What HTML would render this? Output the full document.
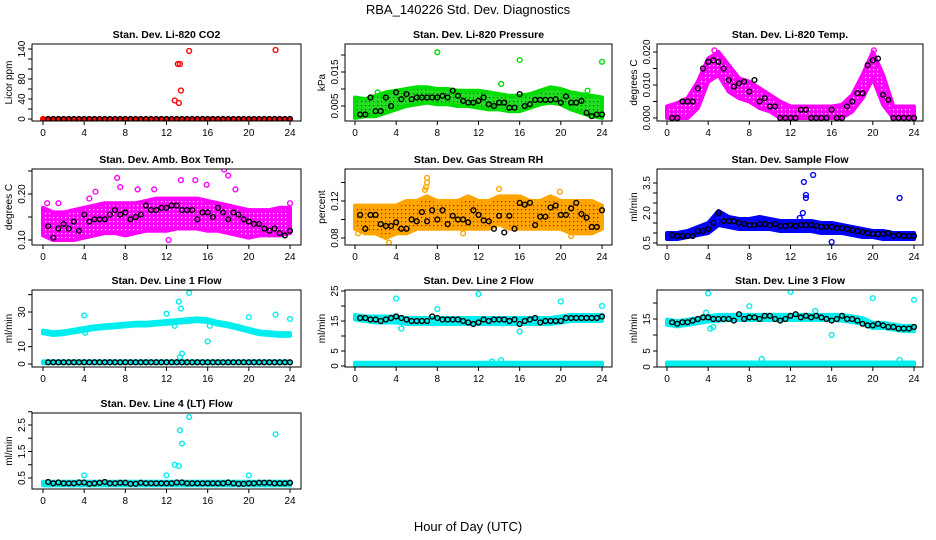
<!DOCTYPE html>
<html><head><meta charset="utf-8"><style>
body{margin:0;background:#fff}
svg{display:block;font-family:"Liberation Sans",sans-serif}
</style></head><body>
<svg id="chart" width="936" height="540" viewBox="0 0 936 540">
<rect width="936" height="540" fill="#fff"/>
<text x="468" y="14" text-anchor="middle" font-size="13">RBA_140226  Std. Dev. Diagnostics</text>
<text x="468" y="531" text-anchor="middle" font-size="13">Hour of Day (UTC)</text>
</svg>
<script>
const hours=[0,1,2,3,4,5,6,7,8,9,10,11,12,13,14,15,16,17,18,19,20,21,22,23,24];
const xTicks=[0,4,8,12,16,20,24];
const blackX=[0.5,1,1.5,2,2.5,3,3.5,4,4.5,5,5.5,6,6.5,7,7.5,8,8.5,9,9.5,10,10.5,11,11.5,12,12.5,13,13.5,14,14.5,15,15.5,16,16.5,17,17.5,18,18.5,19,19.5,20,20.5,21,21.5,22,22.5,23,23.5,24];

// P1 CO2
const co2Lo=[0,0,0,0,0,0,0,0,0,0,0,0,0,0,0,0,0,0,0,0,0,0,0,0,0];
const co2Hi=[0,0,0,0,0,0,0,0,0,0,0,0,0,0,0,0,0,0,0,0,0,0,0,0,0];
const co2Out=[[0,0],[12.8,37],[13.1,110],[13.3,110],[13.4,57],[13.2,32],[14.2,136],[22.6,138]];
const co2Black=[0,0,0,0,0,0,0,0,0,0,0,0,0,0,0,0,0,0,0,0,0,0,0,0,0,0,0,0,0,0,0,0,0,0,0,0,0,0,0,0,0,0,0,0,0,0,0,0];
// P2 Pressure
const presLo=[.0015,.002,.002,.003,.004,.005,.0055,.006,.0055,.0055,.005,.005,.0045,.004,.004,.0035,.0035,.0045,.0055,.006,.0055,.004,.003,.002,.0015];
const presHi=[.0075,.007,.008,.009,.0095,.010,.0105,.0105,.010,.010,.0095,.0095,.0095,.009,.0085,.008,.008,.0085,.0095,.0105,.010,.009,.0085,.008,.0075];
const presOut=[[8,0.0208],[16,0.0185],[24,0.018],[14.2,0.0115],[22.6,0.0095],[2.2,0.009]];
const presBlack=[.0025,.0025,.0075,.0035,.0035,.0075,.005,.009,.007,.0085,.007,.0075,.0075,.0075,.0075,.0075,.008,.0075,.0095,.008,.0065,.006,.006,.0065,.0075,.0055,.005,.006,.006,.0045,.0045,.0085,.005,.0055,.0068,.0068,.0068,.0068,.007,.006,.0078,.006,.006,.0065,.003,.002,.0025,.0025];
// P3 Li-820 Temp
const tempLo=[0,0,0,.003,.011,.013,.008,.006,.005,.003,.002,0,0,0,0,0,0,0,.002,.006,.012,.004,0,0,0];
const tempHi=[.0035,.0045,.006,.011,.018,.020,.016,.012,.011,.009,.007,.005,.0035,.0035,.0035,.0035,.0035,.004,.007,.013,.020,.013,.0035,.0035,.0035];
const tempOut=[[4.6,0.0205],[20.1,0.0205]];
const tempBlack=[0,0,.005,.005,.005,.009,.015,.017,.0175,.017,.015,.0115,.0095,.0105,.011,.008,.0115,.005,.006,.0035,.0035,0,0,0,0,.0025,.0025,0,0,0,0,.0025,0,0,.0035,.005,.0075,.0075,.016,.0175,.018,.007,.0055,0,0,0,0,0];
// P4 Amb box temp
const ambLo=[.11,.10,.10,.10,.105,.11,.115,.115,.11,.115,.12,.12,.12,.125,.125,.125,.12,.12,.115,.11,.105,.11,.11,.11,.115];
const ambHi=[.17,.16,.16,.165,.17,.175,.18,.18,.18,.18,.185,.19,.19,.19,.19,.19,.185,.18,.175,.17,.165,.165,.165,.17,.17];
const ambOut=[[17.6,0.253],[18,0.24],[18.7,0.21],[7.2,0.235],[7.5,0.215],[5.1,0.205],[4.5,0.19],[12.2,0.10],[9.2,0.21],[10.8,0.21],[14.8,0.23],[13.4,0.23],[15.9,0.22],[24,0.18],[0.4,0.18],[1.5,0.18]];
const ambBlack=[.13,.105,.125,.135,.125,.14,.12,.155,.14,.145,.145,.145,.155,.165,.155,.16,.145,.15,.155,.175,.165,.165,.17,.17,.175,.175,.165,.165,.165,.145,.16,.16,.15,.17,.16,.145,.16,.155,.145,.14,.135,.135,.125,.12,.125,.115,.11,.12];
// P5 RH
const rhLo=[.09,.085,.085,.08,.085,.085,.09,.09,.09,.09,.09,.09,.09,.09,.095,.09,.09,.09,.09,.09,.09,.085,.085,.085,.09];
const rhHi=[.115,.115,.115,.115,.115,.12,.12,.125,.12,.12,.12,.125,.12,.12,.125,.125,.125,.12,.12,.125,.12,.12,.12,.12,.115];
const rhOut=[[7,0.145],[7,0.14],[6.9,0.135],[6.8,0.132],[14,0.133],[19.9,0.13],[3.3,0.075],[0.3,0.085],[10.5,0.085],[21,0.082]];
const rhBlack=[.105,.09,.105,.105,.095,.093,.093,.097,.09,.09,.10,.098,.108,.098,.11,.10,.11,.095,.104,.10,.10,.097,.11,.105,.099,.098,.09,.104,.086,.104,.09,.118,.116,.118,.094,.103,.103,.113,.115,.105,.105,.112,.118,.106,.102,.092,.092,.11];
// P6 Sample flow
const sfLo=[.7,.7,.8,.9,1.0,1.4,1.3,1.2,1.2,1.2,1.2,1.1,1.1,1.1,1.1,1.0,1.0,1.0,.9,.8,.8,.7,.7,.7,.7];
const sfHi=[1.0,1.0,1.1,1.3,1.5,2.1,1.8,1.7,1.7,1.8,1.7,1.6,1.6,1.6,1.6,1.5,1.5,1.4,1.3,1.2,1.1,1.1,1.0,1.0,1.0];
const sfOut=[[14.2,3.9],[13.3,3.55],[13.5,2.9],[13.5,2.75],[13.2,2.0],[12.9,1.75],[22.6,2.75],[16,0.55]];
const sfBlack=[0.9,0.85,0.85,0.85,0.85,1.1,1.1,1.2,1.5,2.0,1.6,1.6,1.6,1.5,1.45,1.4,1.4,1.45,1.45,1.4,1.45,1.35,1.35,1.4,1.35,1.4,1.4,1.4,1.35,1.3,1.3,1.3,1.25,1.25,1.2,1.15,1.1,1.05,1.0,0.95,0.95,0.95,1.0,0.85,0.9,0.85,0.85,0.85];
// P7 Line 1
const l1Lo=[17.7,16.7,17.2,18.2,19.2,20.2,20.7,21.2,21.7,22.2,22.2,22.7,23.2,23.7,24.2,24.7,24.2,22.7,21.7,20.2,18.7,17.2,16.7,16.2,16.2];
const l1Hi=[19.3,18.3,18.8,19.8,20.8,21.8,22.3,22.8,23.3,23.8,23.8,24.3,24.8,25.3,25.8,26.3,25.8,24.3,23.3,21.8,20.3,18.8,18.3,17.8,17.8];
const l1BaseLo=[0.5,0.5,0.5,0.5,0.5,0.5,0.5,0.5,0.5,0.5,0.5,0.5,0.5,0.5,0.5,0.5,0.5,0.5,0.5,0.5,0.5,0.5,0.5,0.5,0.5];
const l1BaseHi=[1.5,1.5,1.5,1.5,1.5,1.5,1.5,1.5,1.5,1.5,1.5,1.5,1.5,1.5,1.5,1.5,1.5,1.5,1.5,1.5,1.5,1.5,1.5,1.5,1.5];
const l1Out=[[4,28],[4.1,18],[12,29],[12.8,22],[13.2,36],[13.4,32],[14.2,41],[13.5,6],[13.3,4],[16,13],[16.2,22],[20,27],[22.6,28.5],[24,26]];
const l1Black=[1,1,1,1,1,1,1,1,1,1,1,1,1,1,1,1,1,1,1,1,1,1,1,1,1,1,1,1,1,1,1,1,1,1,1,1,1,1,1,1,1,1,1,1,1,1,1,1];
// P8 Line 2
const l2Lo=[15.5,15,14.5,14.5,14.5,14,14,14,14,14,14,14,14,14,14,14,14,14,14,14,14.5,15,15,15,15];
const l2Hi=[17,16.5,16.5,16.5,16.5,16,16,16,16,16,16,16,16,16,16,16,16,16,16,16,16.5,17,17,17,17];
const l2BaseLo=[0.3,0.3,0.3,0.3,0.3,0.3,0.3,0.3,0.3,0.3,0.3,0.3,0.3,0.3,0.3,0.3,0.3,0.3,0.3,0.3,0.3,0.3,0.3,0.3,0.3];
const l2BaseHi=[1.1,1.1,1.1,1.1,1.1,1.1,1.1,1.1,1.1,1.1,1.1,1.1,1.1,1.1,1.1,1.1,1.1,1.1,1.1,1.1,1.1,1.1,1.1,1.1,1.1];
const l2Out=[[4,22.5],[4.5,12.5],[8,19],[12,24],[16,11.5],[20,21.5],[24,20],[13.3,1.5],[14.2,2]];
const l2Black=[16,16,15.5,15.5,15,15.5,16,16.5,16,15.5,15,15,15,15,16.5,16,15.5,15.5,15.5,15.5,15,14.5,14,14.5,15.5,15,15.5,15.5,15.5,15,15.5,14,15,15.5,16,14.5,15,15,15,15,16,16,16,16,16,16,16,16.5];
// P9 Line 3
const l3Lo=[13.2,12.7,13.2,13.7,14.2,14.5,14.7,14.7,14.7,14.7,14.7,14.7,14.7,14.7,14.7,14.7,14.7,14.5,14.0,13.5,12.2,12.2,11.7,11.2,11.2];
const l3Hi=[14.8,14.3,14.8,15.3,15.8,16.3,16.3,16.3,16.3,16.3,16.3,16.3,16.3,16.3,16.3,16.3,16.3,16.3,15.8,15.3,13.8,13.8,13.3,12.8,12.8];
const l3BaseLo=[0.5,0.5,0.5,0.5,0.5,0.5,0.5,0.5,0.5,0.5,0.5,0.5,0.5,0.5,0.5,0.5,0.5,0.5,0.5,0.5,0.5,0.5,0.5,0.5,0.5];
const l3BaseHi=[1.4,1.4,1.4,1.4,1.4,1.4,1.4,1.4,1.4,1.4,1.4,1.4,1.4,1.4,1.4,1.4,1.4,1.4,1.4,1.4,1.4,1.4,1.4,1.4,1.4];
const l3Out=[[4,23],[4.2,12],[4.5,12.5],[8,19],[12,23.5],[16,10],[20,21.5],[24,21],[9.2,2.5],[22.6,2.2],[3.8,17],[14.4,17.5]];
const l3Black=[14,13.5,14,14,14.5,15,15.5,15.5,15,15,15,15,14.5,16.5,15,15.5,15.5,15,16,16,15,14.5,15,16,16.5,15.5,16,15.5,16,15.5,15,14.5,15,16,15,15,14.5,13.5,13,13,13.5,13,12.5,12.5,12,12,12,12.5];
// P10 Line 4
const l4Lo=[0.22,0.22,0.22,0.22,0.22,0.22,0.22,0.22,0.22,0.22,0.22,0.22,0.22,0.22,0.22,0.22,0.22,0.22,0.22,0.22,0.22,0.22,0.22,0.22,0.22];
const l4Hi=[0.36,0.36,0.36,0.36,0.36,0.36,0.36,0.36,0.36,0.36,0.36,0.36,0.36,0.36,0.36,0.36,0.36,0.36,0.36,0.36,0.36,0.36,0.36,0.36,0.36];
const l4Out=[[4,0.6],[12,0.6],[12.8,1.0],[13.2,0.95],[13.3,2.3],[13.5,1.8],[14.2,2.8],[20,0.6],[22.6,2.15]];
const l4Black=[0.35,0.3,0.33,0.3,0.3,0.3,0.33,0.33,0.28,0.3,0.32,0.35,0.3,0.3,0.32,0.32,0.28,0.28,0.32,0.3,0.3,0.3,0.3,0.3,0.3,0.33,0.33,0.3,0.3,0.3,0.3,0.3,0.3,0.3,0.3,0.33,0.3,0.28,0.28,0.3,0.3,0.32,0.32,0.32,0.3,0.3,0.3,0.32];

const COLS=[{l:32,r:301,x0:43,x1:290},{l:345,r:612,x0:355,x1:602},{l:657,r:923,x0:667,x1:914}];
const ROWS=[{t:44,b:121},{t:169,b:245},{t:290,b:367},{t:413,b:489}];

const panels=[
 {name:'co2',title:'Stan. Dev. Li-820 CO2',yt:'Licor ppm',c:0,r:0,va:0,pa:119,vb:140,pb:49,ticks:[0,20,40,60,80,100,120,140],labels:['0','40','80','140'],color:'#ff0000',fill:'#ff0000',dot:'#000',bands:[[co2Lo,co2Hi]],out:co2Out,black:co2Black},
 {name:'pressure',title:'Stan. Dev. Li-820 Pressure',yt:'kPa',c:1,r:0,va:0.005,pa:106,vb:0.015,pb:72,ticks:[0.005,0.01,0.015,0.02],labels:['0.005','0.015'],color:'#00dd00',fill:'#22dd22',dot:'#0a6a0a',bands:[[presLo,presHi]],out:presOut,black:presBlack},
 {name:'li820-temp',title:'Stan. Dev. Li-820 Temp.',yt:'degrees C',c:2,r:0,va:0,pa:118,vb:0.02,pb:52,ticks:[0,0.005,0.01,0.015,0.02],labels:['0.000','0.010','0.020'],color:'#ff00ff',fill:'#ff00ff',dot:'#fff',bands:[[tempLo,tempHi]],out:tempOut,black:tempBlack},
 {name:'amb-box-temp',title:'Stan. Dev. Amb. Box Temp.',yt:'degrees C',c:0,r:1,va:0.10,pa:240,vb:0.20,pb:194,ticks:[0.10,0.15,0.20,0.25],labels:['0.10','0.20'],color:'#ff00ff',fill:'#ff00ff',dot:'#fff',bands:[[ambLo,ambHi]],out:ambOut,black:ambBlack},
 {name:'gas-stream-rh',title:'Stan. Dev. Gas Stream RH',yt:'percent',c:1,r:1,va:0.08,pa:238,vb:0.12,pb:201,ticks:[0.08,0.10,0.12,0.14],labels:['0.08','0.12'],color:'#ffa500',fill:'#ffa500',dot:'#e00000',bands:[[rhLo,rhHi]],out:rhOut,black:rhBlack},
 {name:'sample-flow',title:'Stan. Dev. Sample Flow',yt:'ml/min',c:2,r:1,va:0.5,pa:243,vb:2.0,pb:213,ticks:[0.5,1,1.5,2,2.5,3,3.5],labels:['0.5','2.0','3.5'],color:'#0000ff',fill:'#0000ff',dot:'#4040ff',bands:[[sfLo,sfHi]],out:sfOut,black:sfBlack},
 {name:'line1-flow',title:'Stan. Dev. Line 1 Flow',yt:'ml/min',c:0,r:2,va:0,pa:364,vb:30,pb:312,ticks:[0,10,20,30,40],labels:['0','10','30'],color:'#00eeee',fill:'#00ffff',dot:'#00ffff',bands:[[l1Lo,l1Hi],[l1BaseLo,l1BaseHi]],out:l1Out,black:l1Black},
 {name:'line2-flow',title:'Stan. Dev. Line 2 Flow',yt:'ml/min',c:1,r:2,va:0,pa:366,vb:25,pb:291,ticks:[0,5,10,15,20,25],labels:['0','5','15','25'],color:'#00eeee',fill:'#00ffff',dot:'#00ffff',bands:[[l2Lo,l2Hi],[l2BaseLo,l2BaseHi]],out:l2Out,black:l2Black},
 {name:'line3-flow',title:'Stan. Dev. Line 3 Flow',yt:'ml/min',c:2,r:2,va:0,pa:367,vb:15,pb:319,ticks:[0,5,10,15,20],labels:['0','5','15'],color:'#00eeee',fill:'#00ffff',dot:'#00ffff',bands:[[l3Lo,l3Hi],[l3BaseLo,l3BaseHi]],out:l3Out,black:l3Black},
 {name:'line4-flow',title:'Stan. Dev. Line 4 (LT) Flow',yt:'ml/min',c:0,r:3,va:0.5,pa:478,vb:2.5,pb:425,ticks:[0.5,1,1.5,2,2.5,3],labels:['0.5','1.5','2.5'],color:'#00eeee',fill:'#00ffff',dot:'#00ffff',bands:[[l4Lo,l4Hi]],out:l4Out,black:l4Black}
];

const NS='http://www.w3.org/2000/svg';
const svg=document.getElementById('chart');
function mk(tag,attrs,parent){const e=document.createElementNS(NS,tag);for(const k in attrs)e.setAttribute(k,attrs[k]);(parent||svg).appendChild(e);return e;}
const defs=mk('defs',{});

panels.forEach((p,i)=>{
  const C=COLS[p.c],R=ROWS[p.r];
  const xs=v=>C.x0+(C.x1-C.x0)*v/24;
  const ys=v=>p.pa+(p.pb-p.pa)*(v-p.va)/(p.vb-p.va);
  const pat=mk('pattern',{id:'pat'+i,width:4,height:4,patternUnits:'userSpaceOnUse'},defs);
  mk('rect',{width:4,height:4,fill:p.fill},pat);
  mk('rect',{x:1,y:1,width:1.2,height:1.2,fill:p.dot},pat);
  const g=mk('g',{});
  
  
  const cp=mk('clipPath',{id:'cp'+i},g);
  mk('rect',{x:C.l,y:R.t,width:C.r-C.l,height:R.b-R.t},cp);
  const plot=mk('g',{'clip-path':'url(#cp'+i+')'},g);
  
  
  p.bands.forEach(b=>{
    const lo=b[0],hi=b[1];
    let pts=hours.map((h,k)=>xs(h)+','+ys(hi[k]));
    pts=pts.concat(hours.slice().reverse().map((h,k)=>xs(h)+','+ys(lo[hours.length-1-k])));
    const band=mk('polygon',{points:pts.join(' '),fill:'url(#pat'+i+')',stroke:p.color,'stroke-width':4,'stroke-linejoin':'round'},plot);
    
    
  });
  p.out.forEach(o=>{
    const c=mk('circle',{cx:xs(o[0]),cy:ys(o[1]),r:2.4,fill:'none',stroke:p.color,'stroke-width':1.4},plot);
    
    
  });
  blackX.forEach((x,k)=>{
    const c=mk('circle',{cx:xs(x),cy:ys(p.black[k]),r:2.4,fill:'none',stroke:'#000','stroke-width':1.4},plot);
    
    
  });
  const box=mk('rect',{x:C.l,y:R.t,width:C.r-C.l,height:R.b-R.t,fill:'none',stroke:'#000','stroke-width':1},g);
  
  
  mk('line',{x1:xs(0),x2:xs(24),y1:R.b,y2:R.b,stroke:'#000'},g);
  xTicks.forEach(t=>{
    mk('line',{x1:xs(t),x2:xs(t),y1:R.b,y2:R.b+4,stroke:'#000'},g);
    const tx=mk('text',{x:xs(t),y:R.b+15,'text-anchor':'middle','font-size':10},g);
    tx.textContent=t;
    
    
  });
  const yl=ys(p.ticks[0]),yh=ys(p.ticks[p.ticks.length-1]);
  mk('line',{x1:C.l,x2:C.l,y1:yl,y2:yh,stroke:'#000'},g);
  p.ticks.forEach(t=>{mk('line',{x1:C.l-4,x2:C.l,y1:ys(t),y2:ys(t),stroke:'#000'},g);});
  p.labels.forEach(l=>{
    const yy=ys(parseFloat(l));
    const tx=mk('text',{x:C.l-7,y:yy,'text-anchor':'middle','font-size':10,transform:'rotate(-90 '+(C.l-7)+' '+yy+')'},g);
    tx.textContent=l;
    
    
  });
  const ty=(R.t+R.b)/2;
  const yt=mk('text',{x:C.l-20,y:ty,'text-anchor':'middle','font-size':10,transform:'rotate(-90 '+(C.l-20)+' '+ty+')'},g);
  yt.textContent=p.yt;
  
  
  const tt=mk('text',{x:(C.l+C.r)/2,y:R.t-6,'text-anchor':'middle','font-size':10.5,'font-weight':'bold'},g);
  tt.textContent=p.title;
  
  
});
</script>
</body></html>
